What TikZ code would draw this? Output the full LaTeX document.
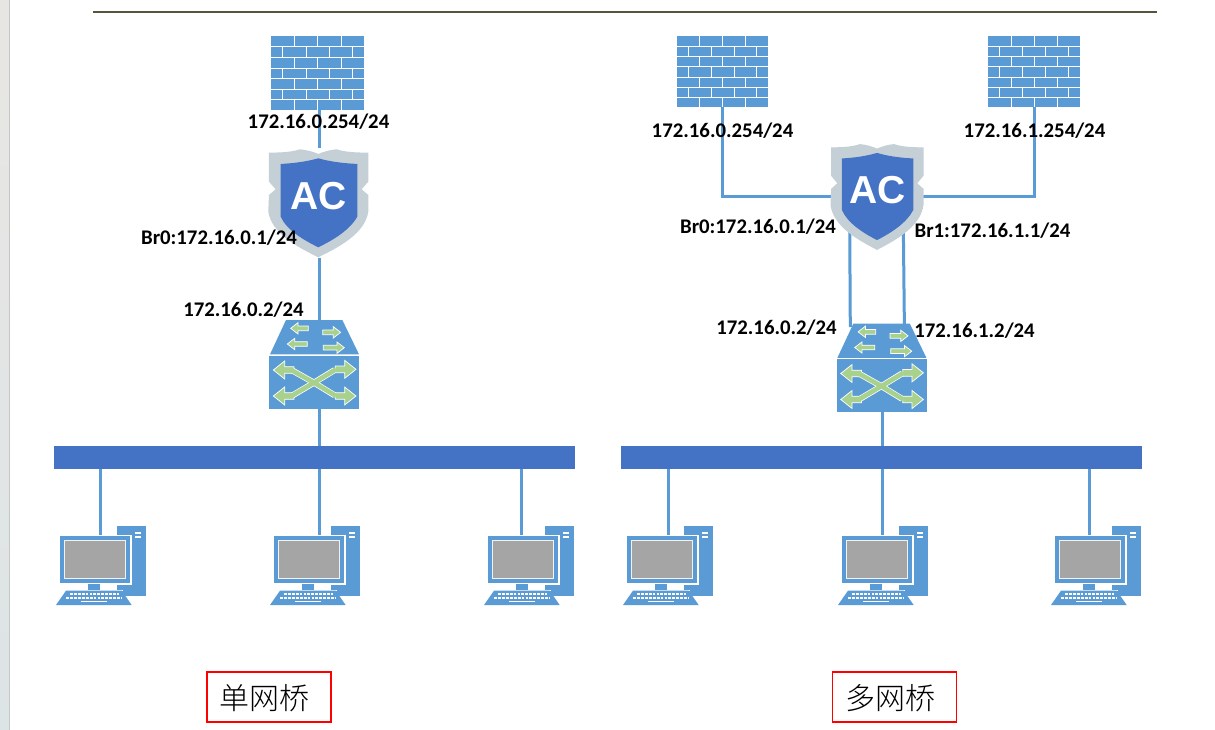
\documentclass[tikz,border=0pt]{standalone}
\usepackage{fontspec}
\setmainfont{Carlito}
\newfontfamily\acfont{Liberation Sans}
\newfontfamily\cjkfont{Noto Sans CJK SC Light}
\definecolor{iconblue}{HTML}{5B9BD5}
\definecolor{busblue}{HTML}{4472C4}
\definecolor{shieldgrey}{HTML}{C5D0D6}
\definecolor{arrowgreen}{HTML}{A9D18E}
\definecolor{rulecol}{HTML}{5A5340}
\definecolor{screengrey}{HTML}{A5A5A5}
\definecolor{striptop}{HTML}{E8E6E3}
\definecolor{stripmid}{HTML}{E0E8E0}
\definecolor{stripbot}{HTML}{DDE4E6}
\tikzset{
  x=1pt,y=-1pt,
  holder/.style={inner sep=0pt,outer sep=0pt,minimum width=#1},
  link/.style={draw=iconblue,line width=3pt},
  addr/.style={inner sep=0pt,font=\fontsize{20.8}{24}\selectfont\bfseries,text=black},
  capbox/.style={draw=red,line width=1.6pt,minimum width=124pt,minimum height=50pt,inner sep=0pt},
  captext/.style={inner sep=0pt,font=\fontsize{30}{32}\selectfont\cjkfont},
  brickgap/.style={draw=white,line width=.8pt},
  busbar/.style={fill=busblue,draw=none},
  swarrow/.style={fill=arrowgreen,draw=white,line width=.7pt,line join=miter}
}
% firewall: local units are 3x reference pixels
\newcommand{\fwicon}[4]{%
\begin{scope}[shift={(#1,#2)},xscale=#3/3,yscale=#4/3]
  \fill[iconblue] (0,0) rectangle (279,222);
  \foreach \yy in {32,64,96,128,160,191} \draw[brickgap] (0,\yy)--(279,\yy);
  \foreach \r in {0,64,128,191} \foreach \xx in {70,140,210} \draw[brickgap] (\xx,\r)--(\xx,\r+32);
  \foreach \r in {32,96,160} \foreach \xx in {34,105,175,245} \draw[brickgap] (\xx,\r)--(\xx,\r+32);
\end{scope}}
% AC shield
\newcommand{\acicon}[4]{%
\begin{scope}[shift={(#1,#2)},xscale=#3/3,yscale=#4/3,shift={(-205,-190)}]
  \fill[shieldgrey] (57,38) .. controls (100,38) and (130,35) .. (150,28)
    .. controls (170,30) and (190,35) .. (205,42)
    .. controls (220,35) and (240,30) .. (260,28)
    .. controls (280,35) and (310,38) .. (355,38)
    -- (355,125) -- (335,148) -- (355,165) -- (355,215)
    .. controls (345,280) and (270,320) .. (205,352)
    .. controls (140,320) and (65,280) .. (55,215)
    -- (57,165) -- (77,148) -- (57,125) -- cycle;
  \fill[busblue] (92,72) .. controls (130,70) and (170,65) .. (205,55)
    .. controls (240,65) and (280,70) .. (322,72)
    -- (322,230) .. controls (300,270) and (250,300) .. (205,322)
    .. controls (160,300) and (110,270) .. (92,230) -- cycle;
  \node[inner sep=0pt,text=white,font=\fontsize{39}{42}\selectfont\acfont\bfseries] at (207,168) {AC};
\end{scope}}
% small arrow: tip x, tail x, y, direction
\newcommand{\sarrow}[4]{%
  \filldraw[swarrow] (#1,#3) -- (#1+22*#4,#3-17) -- (#1+22*#4,#3-7) -- (#2,#3-7) -- (#2,#3+7)
    -- (#1+22*#4,#3+7) -- (#1+22*#4,#3+17) -- cycle;}
\newcommand{\xhead}[3]{%
  \filldraw[swarrow] (#1,#2) -- (#1+34*#3,#2-27) -- (#1+34*#3,#2-10) -- (#1+62*#3,#2-10) -- (#1+62*#3,#2+10)
    -- (#1+34*#3,#2+10) -- (#1+34*#3,#2+27) -- cycle;}
% switch
\newcommand{\swicon}[2]{%
\begin{scope}[shift={(#1,#2)},scale=1/3]
  \fill[iconblue] (108,30) -- (277,30) -- (327,133) -- (60,133) -- cycle;
  \fill[iconblue] (58,137) rectangle (328,296);
  \sarrow{122}{175}{55}{1}
  \sarrow{272}{218}{67}{-1}
  \sarrow{112}{172}{102}{1}
  \sarrow{283}{220}{113}{-1}
  \xhead{70}{180}{1}
  \xhead{70}{258}{1}
  \xhead{318}{178}{-1}
  \xhead{318}{258}{-1}
  \draw[white,line width=6pt] (128,182)--(192,218)--(254,256);
  \draw[white,line width=6pt] (128,256)--(192,218)--(254,180);
  \draw[arrowgreen,line width=4.6pt] (124,180)--(192,218)--(258,258);
  \draw[arrowgreen,line width=4.6pt] (124,258)--(192,218)--(258,178);
\end{scope}}
% computer
\newcommand{\pcicon}[2]{%
\begin{scope}[shift={(#1,#2)},scale=1/3]
  \fill[iconblue] (232,48) rectangle (318,257);
  \fill[white] (284,65) rectangle (303,72);
  \fill[white] (284,77) rectangle (303,85);
  \fill[white] (54,74) rectangle (275,224);
  \fill[white] (225,224) rectangle (232,242);
  \fill[iconblue] (60,78) rectangle (270,218);
  \filldraw[fill=screengrey,draw=white!85!screengrey,line width=.8pt] (72,92) rectangle (257,205);
  \fill[iconblue] (145,222) rectangle (180,240);
  \fill[white] (70,240) rectangle (250,242);
  \fill[iconblue] (78,242) -- (245,242) -- (275,285) -- (48,285) -- cycle;
  \draw[white,line width=2.1pt,dash pattern=on 2.8pt off 1.1pt] (90,252)--(236,252);
  \draw[white,line width=2.1pt,dash pattern=on 2.8pt off 1.1pt] (79,263)--(244,263);
  \fill[white] (124,272) rectangle (200,277);
\end{scope}}
\begin{document}
\begin{tikzpicture}
\useasboundingbox (0,0) rectangle (1215,730);
\fill[white] (0,0) rectangle (1215,730);
\shade[top color=striptop, middle color=stripmid, bottom color=stripbot] (0,0) rectangle (9,730);
\fill[gray!45] (9,0) rectangle (10,730);
\draw[rulecol,line width=1.6pt] (93,12) -- (1157,12);
% anchor nodes
\node[holder=93pt,minimum height=74pt] (fwa) at (317.5,73) {};
\node[holder=91pt,minimum height=71pt] (fwb) at (722.5,71.5) {};
\node[holder=92pt,minimum height=71pt] (fwc) at (1034,71.5) {};
\node[holder=101pt,minimum height=109pt] (aca) at (319,203) {};
\node[holder=92pt,minimum height=107pt] (acb) at (877,196.5) {};
\node[holder=90pt,minimum height=89pt] (swa) at (319,364.3) {};
\node[holder=90pt,minimum height=89pt] (swb) at (882,367.8) {};
\node[holder=521pt,minimum height=23pt] (busa) at (314.5,457.5) {};
\node[holder=521pt,minimum height=23pt] (busb) at (881.5,457.5) {};
\foreach \nm/\xx in {pca/100,pcb/319,pcc/521,pcd/668,pce/882,pcf/1089} \coordinate (\nm) at (\xx,537);
\coordinate (acbl) at (849.7,225); \coordinate (swbl) at (850.3,327);
\coordinate (acbr) at (903.3,225); \coordinate (swbr) at (904.4,327);
\foreach \nm/\xx in {ta/100,tb/319,tc/521,td/668,te/882,tf/1089} \coordinate (\nm) at (\xx,469);
% connectors
\draw[link] (fwa.south -| aca.north) -- (aca.north);
\draw[link] (aca.south) -- (swa.north);
\draw[link] (swa.south) -- (busa.north -| swa.south);
\draw[link] (fwb.south) |- (acb.west);
\draw[link] (fwc.south) |- (acb.east);
\draw[link] (acbl) -- (swbl);
\draw[link] (acbr) -- (swbr);
\draw[link] (swb.south) -- (busb.north -| swb.south);
\draw[link] (ta) -- (pca);
\draw[link] (tb) -- (pcb);
\draw[link] (tc) -- (pcc);
\draw[link] (td) -- (pcd);
\draw[link] (te) -- (pce);
\draw[link] (tf) -- (pcf);
% buses
\fill[busbar] (busa.south west) rectangle (busa.north east);
\fill[busbar] (busb.south west) rectangle (busb.north east);
% icons
\fwicon{271}{36}{1}{1}
\fwicon{677}{36}{.978}{.96}
\fwicon{988}{36}{.989}{.96}
\acicon{318.3}{203.3}{1}{1}
\acicon{877}{197}{.93}{.98}
\swicon{250}{310}
\swicon{817.4}{313.5}
\pcicon{40}{510}
\pcicon{254}{510}
\pcicon{468}{510}
\pcicon{607}{510}
\pcicon{822}{510}
\pcicon{1035}{510}
% labels
\node[addr] (la) at (318.5,122) {172.16.0.254/24};
\node[addr] (lb) at (219,238) {Br0:172.16.0.1/24};
\node[addr] (lc) at (243.5,310) {172.16.0.2/24};
\node[addr] (ld) at (722.5,131) {172.16.0.254/24};
\node[addr] (le) at (1034.5,131) {172.16.1.254/24};
\node[addr] (lf) at (758,227) {Br0:172.16.0.1/24};
\node[addr] (lg) at (992.5,231) {Br1:172.16.1.1/24};
\node[addr] (lh) at (776.5,328) {172.16.0.2/24};
\node[addr] (li) at (974.5,331) {172.16.1.2/24};
\node[capbox] (capa) at (269,697) {};
\node[capbox] (capb) at (894.5,697) {};
\node[captext] (txta) at (264.5,698) {单网桥};
\node[captext] (txtb) at (890,698) {多网桥};
\end{tikzpicture}
\end{document}
